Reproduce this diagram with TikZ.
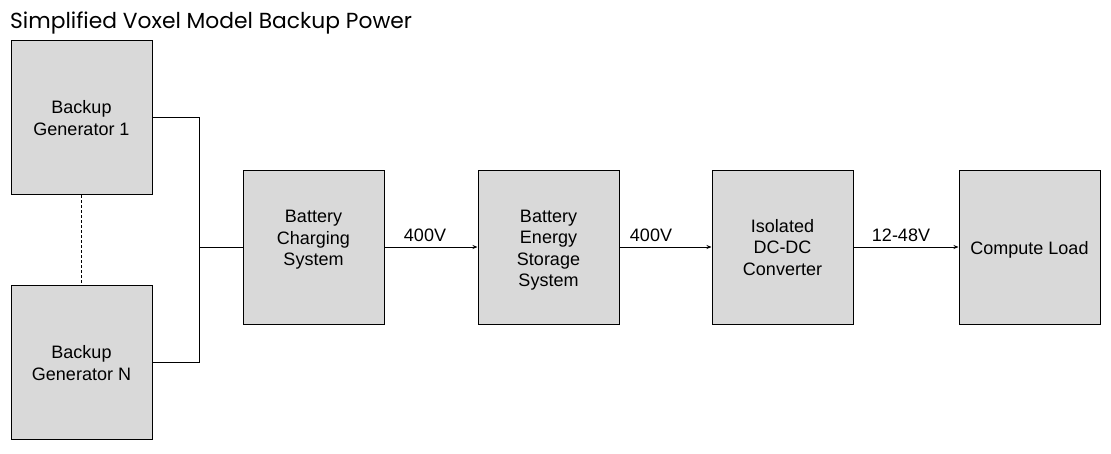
\documentclass[tikz,border=0pt]{standalone}
\usepackage{fontspec}
\setmainfont{Liberation Sans}
\newfontfamily\titlefont{Poppins}
\usetikzlibrary{arrows.meta}
\definecolor{boxgray}{HTML}{D9D9D9}
\tikzset{
  blk/.style={draw=black, fill=boxgray, line width=1pt, minimum width=141pt, minimum height=154pt, inner sep=0pt},
  btxt/.style={anchor=base, inner sep=0pt, align=center, font=\fontsize{18}{21.4}\selectfont},
  wire/.style={line width=1pt, draw=black},
  arr/.style={wire, -{Stealth[length=5pt,width=4pt]}},
  vlab/.style={font=\fontsize{18}{21.4}\selectfont, anchor=base, inner sep=0pt}
}
\begin{document}
\begin{tikzpicture}[x=1pt,y=-1pt]
\useasboundingbox (0,0) rectangle (1111,453);
\node[anchor=base west, inner sep=0pt, font=\titlefont\fontsize{21.8}{24}\selectfont] (title) at (10,28) {Simplified Voxel Model Backup Power};
\node[blk] (g1) at (81.5,117.5) {};
\node[blk] (gn) at (81.5,362) {};
\node[blk] (bcs) at (313.5,247) {};
\node[blk] (bess) at (548.5,247) {};
\node[blk] (dcdc) at (782.5,247) {};
\node[blk] (load) at (1029.5,247) {};
\node[btxt] (g1t) at (81.5,135) {Backup\\Generator 1};
\node[btxt] (gnt) at (81.5,380) {Backup\\Generator N};
\node[btxt] (bcst) at (313.5,265.5) {Battery\\Charging\\System};
\node[btxt] (besst) at (548.5,286.7) {Battery\\Energy\\Storage\\System};
\node[btxt] (dcdct) at (782.5,275) {Isolated\\DC-DC\\Converter};
\node[btxt] (loadt) at (1029.5,254) {Compute Load};
\coordinate (j1) at (199,117.5);
\coordinate (jn) at (199,362);
\coordinate (jm) at (199,247);
\draw[wire] (g1.east) -- (j1) -- (jn) -- (gn.east);
\draw[wire] (jm) -- (bcs.west);
\draw[wire, dashed, dash pattern=on 3pt off 2pt] (g1.south) -- (gn.north);
\draw[arr] (bcs.east) -- (bess.west);
\draw[arr] (bess.east) -- (dcdc.west);
\draw[arr] (dcdc.east) -- (load.west);
\node[vlab] (l1) at (425,241) {400V};
\node[vlab] (l2) at (651,241) {400V};
\node[vlab] (l3) at (901,241.5) {12-48V};
\end{tikzpicture}
\end{document}
